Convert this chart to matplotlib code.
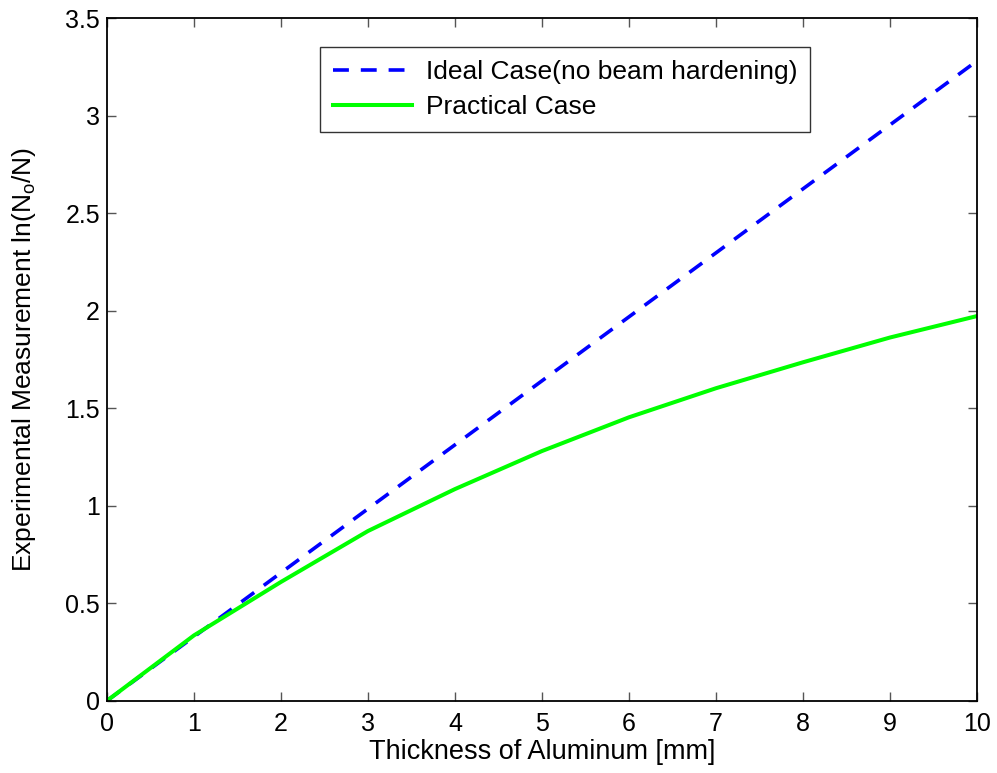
import matplotlib
matplotlib.use('Agg')
import matplotlib.pyplot as plt

plt.rcParams['font.family'] = ['Liberation Sans', 'DejaVu Sans']
plt.rcParams['mathtext.fontset'] = 'custom'
plt.rcParams['mathtext.rm'] = 'Liberation Sans'
plt.rcParams['mathtext.it'] = 'Liberation Sans'

# thickness in mm
thickness = [0, 1, 2, 3, 4, 5, 6, 7, 8, 9, 10]
# ideal case, no beam hardening
ideal = [0, 0.328, 0.656, 0.984, 1.312, 1.64, 1.968, 2.296, 2.624, 2.952, 3.28]
# practical case
practical = [0, 0.335, 0.609, 0.870, 1.085, 1.280, 1.453, 1.602, 1.735, 1.862, 1.972]

xticks = [0, 1, 2, 3, 4, 5, 6, 7, 8, 9, 10]
yticks = [0, 0.5, 1, 1.5, 2, 2.5, 3, 3.5]
ytick_labels = ['0', '0.5', '1', '1.5', '2', '2.5', '3', '3.5']

fig = plt.figure(figsize=(9.97, 7.73), dpi=100)
ax = fig.add_axes([0.1073, 0.0935, 0.8726, 0.8832])

ax.plot(thickness, ideal, color='#0000ff', lw=2.6, ls=(0, (4.4, 3.3)),
        label='Ideal Case(no beam hardening)')
ax.plot(thickness, practical, color='#00ff00', lw=2.9, label='Practical Case')

ax.set_xlim(0, 10)
ax.set_ylim(0, 3.5)
ax.set_xticks(xticks)
ax.set_yticks(yticks)
ax.set_yticklabels(ytick_labels)
ax.tick_params(direction='in', length=6.5, width=1, colors='#555555',
               labelcolor='black', labelsize=18, top=True, right=True)
ax.tick_params(axis='x', pad=8)
ax.tick_params(axis='y', pad=5)
for s in ax.spines.values():
    s.set_linewidth(1.3)
    s.set_color('black')

ax.set_xlabel('Thickness of Aluminum [mm]', fontsize=19.5, labelpad=2)
ax.set_ylabel('Experimental Measurement ln(N$_{\\mathregular{o}}$/N)', fontsize=19, labelpad=20)

leg = ax.legend(loc='upper left', bbox_to_anchor=(0.245, 0.9575), fontsize=19,
                fancybox=False, framealpha=1, edgecolor='#333333',
                handlelength=3.0, borderpad=0.5, labelspacing=0.42,
                handletextpad=0.5, borderaxespad=0)
leg.get_frame().set_linewidth(1.0)

fig.savefig('out.png', dpi=100)
